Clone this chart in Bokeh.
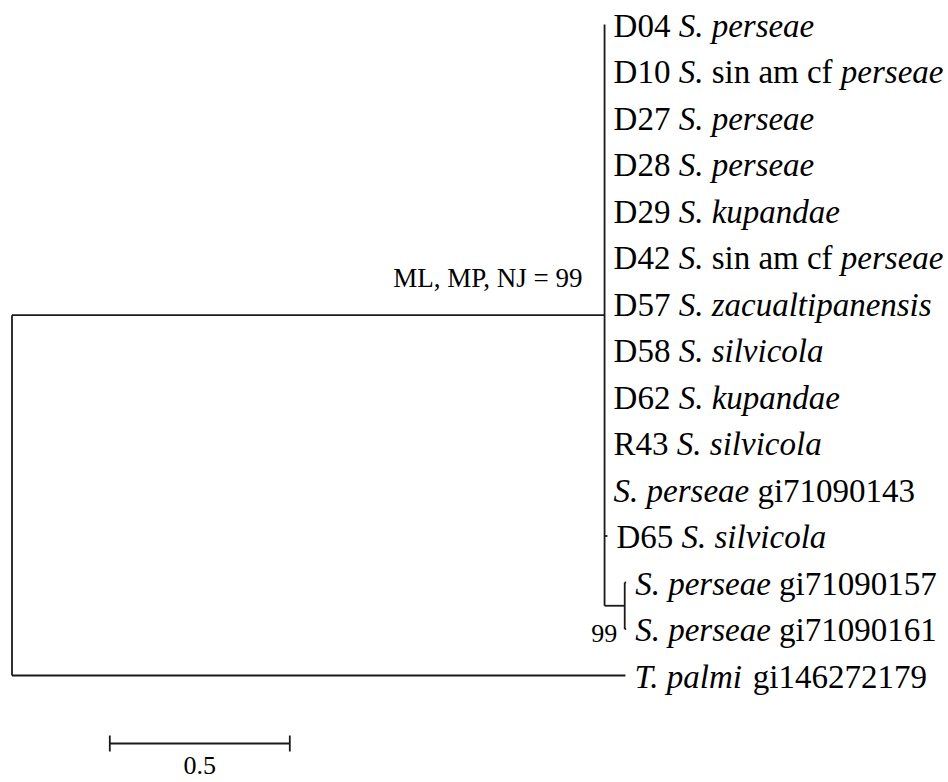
from bokeh.plotting import figure
from bokeh.models import ColumnDataSource, Range1d
from bokeh.core.properties import value
from bokeh.embed import file_html
from bokeh.resources import INLINE

# ---------------- data ----------------
# leaf labels as (text, italic) segments, top to bottom
LEAF_LABELS = [
    [("D04", 0), ("S. perseae", 1)],
    [("D10", 0), ("S.", 1), ("sin am cf", 0), ("perseae", 1)],
    [("D27", 0), ("S. perseae", 1)],
    [("D28", 0), ("S. perseae", 1)],
    [("D29", 0), ("S. kupandae", 1)],
    [("D42", 0), ("S.", 1), ("sin am cf", 0), ("perseae", 1)],
    [("D57", 0), ("S. zacualtipanensis", 1)],
    [("D58", 0), ("S. silvicola", 1)],
    [("D62", 0), ("S. kupandae", 1)],
    [("R43", 0), ("S. silvicola", 1)],
    [("S. perseae", 1), ("gi71090143", 0)],
    [("D65", 0), ("S. silvicola", 1)],
    [("S. perseae", 1), ("gi71090157", 0)],
    [("S. perseae", 1), ("gi71090161", 0)],
    [("T. palmi", 1), ("gi146272179", 0)],
]
LEAF_PARENT = ["A"] * 12 + ["B", "B", "root"]
LEAF_BRANCH = [0, 0, 0, 0, 0, 0, 0, 0, 0, 0, 0, 0.008, 0.004, 0.004, 1.704]

NODE_NAMES = ["root", "A", "B"]
NODE_PARENT = [None, "root", "A"]
NODE_BRANCH = [0.0, 1.646, 0.056]
NODE_SUPPORT = [None, "ML, MP, NJ = 99", "99"]

SCALE_LENGTH = 0.5
SCALE_LABEL = "0.5"

# ---------------- font metrics (Times / Liberation Serif, per 1000 em) -------
ROMAN_W = {" ": 250, ".": 250, "D": 722, "R": 667, "S": 556, "T": 611,
           "a": 444, "c": 444, "f": 333, "g": 500, "i": 278, "m": 778,
           "n": 500, "s": 389}
ITALIC_W = {" ": 250, ".": 250, "S": 500, "T": 556, "a": 500, "c": 444,
            "d": 500, "e": 444, "i": 278, "k": 444, "l": 278, "m": 722,
            "n": 500, "o": 500, "p": 500, "r": 389, "s": 389, "t": 278,
            "u": 500, "v": 444, "z": 389}
for d in "0123456789":
    ROMAN_W[d] = 500
    ITALIC_W[d] = 500


def text_width(s, italic, size):
    tab = ITALIC_W if italic else ROMAN_W
    return sum(tab.get(ch, 500) for ch in s) * size / 1000.0


LEAF_FONT = 33
NOTE_FONT = 26
FONT = value("Liberation Serif")

# ---------------- layout ----------------
W, H = 948, 782
PX_PER_UNIT = 360.0
X0_PX = 11.5         # root x in plot pixels
ROW_PX = 46.5        # leaf spacing
Y0_PX = 24.0         # first leaf y in plot pixels

# tree coordinates
node_x = {}
node_y = {}
children = {n: [] for n in NODE_NAMES}
for i, par in enumerate(LEAF_PARENT):
    children[par].append(("leaf", i))
for n, par in zip(NODE_NAMES, NODE_PARENT):
    if par is not None:
        children[par].append(("node", n))

nb = dict(zip(NODE_NAMES, NODE_BRANCH))
npar = dict(zip(NODE_NAMES, NODE_PARENT))


def nx(n):
    if n in node_x:
        return node_x[n]
    p_ = npar[n]
    node_x[n] = (0.0 if p_ is None else nx(p_)) + nb[n]
    return node_x[n]


for n in NODE_NAMES:
    nx(n)
leaf_x = [node_x[p_] + b for p_, b in zip(LEAF_PARENT, LEAF_BRANCH)]
leaf_y = list(range(len(LEAF_LABELS)))


def ny(n):
    if n in node_y:
        return node_y[n]
    ys = []
    for kind, c in children[n]:
        ys.append(leaf_y[c] if kind == "leaf" else ny(c))
    node_y[n] = (min(ys) + max(ys)) / 2.0
    return node_y[n]


for n in NODE_NAMES:
    ny(n)

# segments
hx0, hx1, hy = [], [], []
for i in range(len(LEAF_LABELS)):
    hx0.append(node_x[LEAF_PARENT[i]]); hx1.append(leaf_x[i]); hy.append(leaf_y[i])
for n, par in zip(NODE_NAMES, NODE_PARENT):
    if par is not None:
        hx0.append(node_x[par]); hx1.append(node_x[n]); hy.append(node_y[n])
vx, vy0, vy1 = [], [], []
for n in NODE_NAMES:
    ys = [leaf_y[c] if k == "leaf" else node_y[c] for k, c in children[n]]
    vx.append(node_x[n]); vy0.append(min(ys)); vy1.append(max(ys))

x_start = -X0_PX / PX_PER_UNIT
x_end = x_start + W / PX_PER_UNIT
y_top = -Y0_PX / ROW_PX
y_bot = (H - Y0_PX) / ROW_PX

p = figure(width=W, height=H, x_range=Range1d(x_start, x_end),
           y_range=Range1d(y_bot, y_top), output_backend="svg",
           toolbar_location=None, x_axis_type=None, y_axis_type=None,
           min_border=0)
p.grid.visible = False
p.outline_line_color = None
p.background_fill_color = "white"

LINE = dict(line_color="#1a1a1a", line_width=1.8)
p.segment(x0=hx0, y0=hy, x1=hx1, y1=hy, **LINE)
p.segment(x0=vx, y0=vy0, x1=vx, y1=vy1, **LINE)

# leaf labels
rom = dict(x=[], y=[], t=[], xo=[])
ita = dict(x=[], y=[], t=[], xo=[])
for i, segs in enumerate(LEAF_LABELS):
    off = 9.0
    for txt, it in segs:
        d = ita if it else rom
        d["x"].append(leaf_x[i]); d["y"].append(leaf_y[i])
        d["t"].append(txt); d["xo"].append(off)
        off += text_width(txt, it, LEAF_FONT) + 0.25 * LEAF_FONT

for d, style in ((rom, "normal"), (ita, "italic")):
    p.text(x="x", y="y", text="t", x_offset="xo", y_offset=1,
           source=ColumnDataSource(d), text_font=FONT,
           text_font_size=f"{LEAF_FONT}px", text_font_style=style,
           text_baseline="alphabetic", text_align="left", text_color="black")

# support values
sup_offsets = {"A": (-22, -37, 27), "B": (-7.5, 27.5, 26)}
for n, s in zip(NODE_NAMES, NODE_SUPPORT):
    if s:
        xo, yo, fs = sup_offsets[n]
        p.text(x=[node_x[n]], y=[node_y[n]], text=[s], x_offset=xo, y_offset=yo,
               text_font=FONT, text_font_size=f"{fs}px",
               text_align="right", text_baseline="alphabetic", text_color="black")

# scale bar
sb_x = (109.3 - X0_PX) / PX_PER_UNIT
sb_y = (743 - Y0_PX) / ROW_PX
tick = 8.0 / ROW_PX
p.segment(x0=[sb_x, sb_x, sb_x + SCALE_LENGTH], y0=[sb_y, sb_y - tick, sb_y - tick],
          x1=[sb_x + SCALE_LENGTH, sb_x, sb_x + SCALE_LENGTH],
          y1=[sb_y, sb_y + tick, sb_y + tick], **LINE)
p.text(x=[sb_x + SCALE_LENGTH / 2], y=[sb_y], text=[SCALE_LABEL], y_offset=22,
       text_font=FONT, text_font_size=f"{NOTE_FONT}px", text_align="center",
       text_baseline="alphabetic", text_color="black")

open("out.html", "w").write(file_html(p, INLINE))
